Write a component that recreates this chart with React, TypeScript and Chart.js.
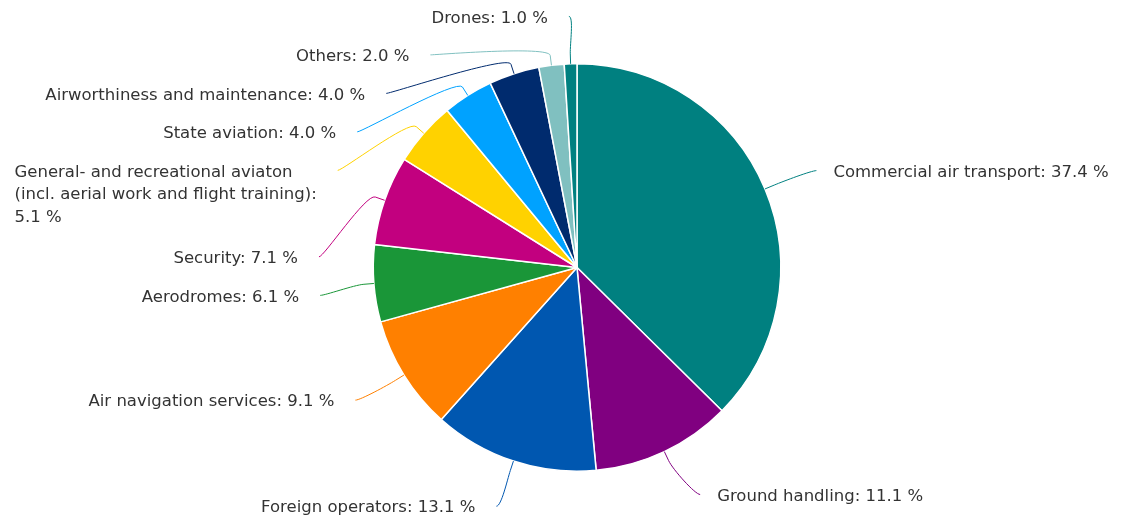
import React, { useEffect, useRef } from "react";
import { Chart, registerables } from "chart.js";

Chart.register(...registerables);

// ---- data ----
const categories: string[] = [
  "Commercial air transport",
  "Ground handling",
  "Foreign operators",
  "Air navigation services",
  "Aerodromes",
  "Security",
  "General- and recreational aviaton (incl. aerial work and flight training)",
  "State aviation",
  "Airworthiness and maintenance",
  "Others",
  "Drones",
];
const shares: number[] = [37.4, 11.1, 13.1, 9.1, 6.1, 7.1, 5.1, 4.0, 4.0, 2.0, 1.0];
const sliceColors: string[] = [
  "#008080",
  "#800080",
  "#0057B0",
  "#FF8000",
  "#1A9638",
  "#C2007F",
  "#FFD200",
  "#00A2FF",
  "#002B6E",
  "#80C0C0",
  "#008080",
];

// ---- label layout styling ----
const FONT = '16.5px "DejaVu Sans"';
const TEXT_COLOR = "#333333";
const LABEL_DIST_Y = 47.5;
const LABEL_DIST_X = 54.5;
const BREAK_DIST = 10;
const LINE_H = 22.5;
const BOX_PAD = 14.5;
const BOX_LINE = 24;
const ANCHOR_TOP = 17;
const TOP_LIMIT = -2;
const BOTTOM_EXTRA = 7.5;
const GAP_LEFT = 21;
const GAP_RIGHT = 17;
const TEXT_DY = 2;
const SIDE_MARGIN = 8;
const EDGE_TOL = 2.5;

function wrapText(ctx: CanvasRenderingContext2D, text: string, maxW: number): string[] {
  const words = text.split(" ");
  const lines: string[] = [];
  let cur = "";
  for (let i = 0; i < words.length; i++) {
    let w = words[i];
    if (words[i + 1] === "%") {
      w = w + " %";
      i++;
    }
    const test = cur ? cur + " " + w : w;
    if (cur && ctx.measureText(test).width > maxW) {
      lines.push(cur);
      cur = w;
    } else {
      cur = test;
    }
  }
  if (cur) lines.push(cur);
  return lines;
}

const labelPlugin = {
  id: "pieConnectorLabels",
  afterDraw(chart: any) {
    const ctx: CanvasRenderingContext2D = chart.ctx;
    const meta = chart.getDatasetMeta(0);
    const H = chart.height;
    const W = chart.width;
    ctx.save();
    ctx.font = FONT;
    const items = meta.data.map((arc: any, i: number) => {
      const p = arc.getProps(["x", "y", "startAngle", "endAngle", "outerRadius"], true);
      const mid = (p.startAngle + p.endAngle) / 2;
      const cos = Math.cos(mid);
      const sin = Math.sin(mid);
      const r = p.outerRadius;
      const text = `${categories[i]}: ${shares[i].toFixed(1)} %`;
      return {
        i,
        text,
        cx: p.x,
        cy: p.y,
        r,
        Rx: r + LABEL_DIST_X,
        cos,
        sin,
        left: cos < 0,
        natY: p.y + (r + LABEL_DIST_Y) * sin,
        lines: [text] as string[],
        h: 0,
        y: 0,
        ax: 0,
        atEdge: false,
      };
    });

    const topMin = TOP_LIMIT + ANCHOR_TOP;
    const anchorX = (it: any) => {
      if (it.atEdge) return it.cx + it.Rx * it.cos;
      const dy = it.y - it.cy;
      const sgn = it.left ? -1 : 1;
      return it.cx + sgn * Math.sqrt(Math.max(0, it.Rx * it.Rx - dy * dy));
    };

    // initial anchors from natural positions
    for (const it of items) {
      it.y = it.natY;
      it.ax = anchorX(it);
    }

    for (let iter = 0; iter < 4; iter++) {
      for (const it of items) {
        const avail = it.left ? it.ax - GAP_LEFT - SIDE_MARGIN : W - SIDE_MARGIN - (it.ax + GAP_RIGHT);
        it.lines = wrapText(ctx, it.text, avail);
        it.h = BOX_PAD + it.lines.length * BOX_LINE;
      }
      for (const side of [true, false]) {
        const list = items.filter((it: any) => it.left === side).sort((a: any, b: any) => a.natY - b.natY);
        let prev: any = null;
        for (const it of list) {
          let y = Math.max(it.natY, topMin);
          if (prev) y = Math.max(y, prev.y + prev.h);
          it.y = y;
          prev = it;
        }
        let next: any = null;
        for (let k = list.length - 1; k >= 0; k--) {
          const it = list[k];
          const bottomMax = H + BOTTOM_EXTRA - (it.h - ANCHOR_TOP);
          let y = Math.min(it.y, bottomMax);
          if (next) y = Math.min(y, next.y - it.h);
          it.y = y;
          it.atEdge = it.y <= topMin + EDGE_TOL || it.y >= bottomMax - EDGE_TOL;
          next = it;
        }
      }
      for (const it of items) it.ax = anchorX(it);
    }

    for (const it of items) {
      const color = sliceColors[it.i];
      const sgn = it.left ? -1 : 1;
      const ax = it.ax;
      const ay = it.y;
      const tx = it.cx + it.r * it.cos;
      const ty = it.cy + it.r * it.sin;
      const bx = it.cx + (it.r + BREAK_DIST) * it.cos;
      const by = it.cy + (it.r + BREAK_DIST) * it.sin;

      ctx.beginPath();
      ctx.moveTo(ax, ay);
      ctx.bezierCurveTo(ax - sgn * 5, ay, 2 * bx - tx, 2 * by - ty, bx, by);
      ctx.lineTo(tx, ty);
      ctx.strokeStyle = color;
      ctx.lineWidth = 1;
      ctx.stroke();

      ctx.fillStyle = TEXT_COLOR;
      ctx.textBaseline = "middle";
      ctx.textAlign = "left";
      const maxW = Math.max(...it.lines.map((l: string) => ctx.measureText(l).width));
      const boxLeft = it.left ? ax - GAP_LEFT - maxW : ax + GAP_RIGHT;
      it.lines.forEach((ln: string, k: number) => {
        ctx.fillText(ln, boxLeft, ay + TEXT_DY + k * LINE_H);
      });
    }
    ctx.restore();
  },
};

export default function App() {
  const canvasRef = useRef<HTMLCanvasElement | null>(null);

  useEffect(() => {
    if (!canvasRef.current) return;
    const chart = new Chart(canvasRef.current, {
      type: "pie",
      data: {
        labels: categories,
        datasets: [
          {
            data: shares,
            backgroundColor: sliceColors,
            borderColor: "#ffffff",
            borderWidth: 1.5,
          },
        ],
      },
      options: {
        animation: false,
        responsive: true,
        maintainAspectRatio: false,
        layout: { padding: { left: 372, right: 343, top: 63, bottom: 49 } },
        plugins: {
          legend: { display: false },
          tooltip: { enabled: false },
        },
      },
      plugins: [labelPlugin],
    } as any);
    return () => chart.destroy();
  }, []);

  return (
    <div
      style={{
        position: "fixed",
        left: 0,
        top: 0,
        width: 1125,
        height: 521,
        background: "#ffffff",
        overflow: "hidden",
      }}
    >
      <canvas ref={canvasRef} />
    </div>
  );
}
